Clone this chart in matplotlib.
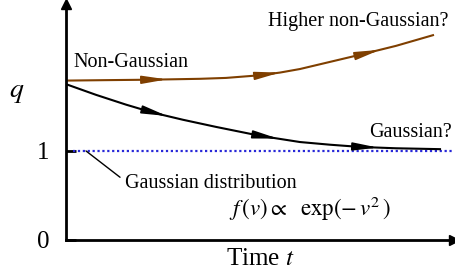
import numpy as np
import matplotlib
matplotlib.use("Agg")
import matplotlib.pyplot as plt

plt.rcParams["font.family"] = ["Liberation Serif", "DejaVu Serif"]
plt.rcParams["mathtext.fontset"] = "stix"

# curves (time t, q)
t_high = [0.0, 0.40, 0.84, 1.34, 1.60, 1.94, 2.14, 2.34, 2.64, 2.94, 3.30, 3.67]
q_high = [1.79, 1.795, 1.80, 1.81, 1.82, 1.85, 1.88, 1.92, 2.00, 2.08, 2.18, 2.30]

t_gauss = [0.0, 0.30, 0.60, 0.87, 1.17, 1.50, 1.94, 2.34, 2.64, 2.94, 3.30, 3.74]
q_gauss = [1.75, 1.63, 1.52, 1.43, 1.35, 1.27, 1.17, 1.10, 1.07, 1.045, 1.03, 1.02]

arrow_t_high = [1.01, 2.14, 3.14]
arrow_t_gauss = [1.01, 2.12, 3.12]

q_gaussian = 1.0
BROWN = "#7f3f00"
BLUE = "#2828d8"

fig = plt.figure(figsize=(4.56, 2.80), dpi=100)
ax = fig.add_axes([66 / 456, 40 / 280, 388 / 456, 236 / 280])
ax.set_xlim(0, 3.88)
ax.set_ylim(0, 2.65)

for s in ("top", "right"):
    ax.spines[s].set_visible(False)
for s in ("left", "bottom"):
    ax.spines[s].set_linewidth(2)

# axis arrowheads
ax.plot(1, 0, ">", color="k", ms=7, transform=ax.transAxes, clip_on=False)
ax.plot(0, 1, "^", color="k", ms=7, transform=ax.transAxes, clip_on=False)

ax.set_xticks([])
ax.set_yticks([0, 1])
ax.set_yticklabels(["0", "1"], fontsize=18)
ax.tick_params(axis="y", direction="in", length=7, width=2, pad=12)

ax.plot([0.07, 3.88], [q_gaussian, q_gaussian], ls=(0, (1, 1.2)), color=BLUE,
        lw=1.6, clip_on=False)

ax.plot(t_high, q_high, color=BROWN, lw=1.5)
ax.plot(t_gauss, q_gauss, color="k", lw=1.5)


def heads(ts, qs, at, color):
    for t in at:
        t0 = t - 0.22
        ax.annotate("", xy=(t, np.interp(t, ts, qs)),
                    xytext=(t0, np.interp(t0, ts, qs)),
                    arrowprops=dict(arrowstyle="-|>,head_length=1.5,head_width=0.24",
                                    color=color, lw=1.2, shrinkA=0, shrinkB=0))


heads(t_high, q_high, arrow_t_high, BROWN)
heads(t_gauss, q_gauss, arrow_t_gauss, "k")

fs = 14.5
ax.text(0.07, 1.99, "Non-Gaussian", fontsize=fs, va="center", ha="left")
ax.text(2.02, 2.45, "Higher non-Gaussian?", fontsize=fs, va="center", ha="left",
        clip_on=False)
ax.text(3.03, 1.21, "Gaussian?", fontsize=fs, va="center", ha="left")
ax.annotate("Gaussian distribution", xy=(0.2, q_gaussian), xytext=(0.59, 0.64),
            fontsize=fs, va="center", ha="left",
            arrowprops=dict(arrowstyle="-", color="k", lw=1, shrinkA=2, shrinkB=0,
                            relpos=(0, 0.6)))
ax.text(1.63, 0.35, r"$f\,(v) \propto\ \ \mathrm{exp}(-\,v^2\,)$", fontsize=16.5,
        va="center", ha="left")

ax.text(-0.49, 1.66, r"$q$", fontsize=20, va="center", ha="center", clip_on=False)
ax.set_xlabel(r"Time $t$", fontsize=18, labelpad=6)

fig.savefig("out.png", dpi=100)
